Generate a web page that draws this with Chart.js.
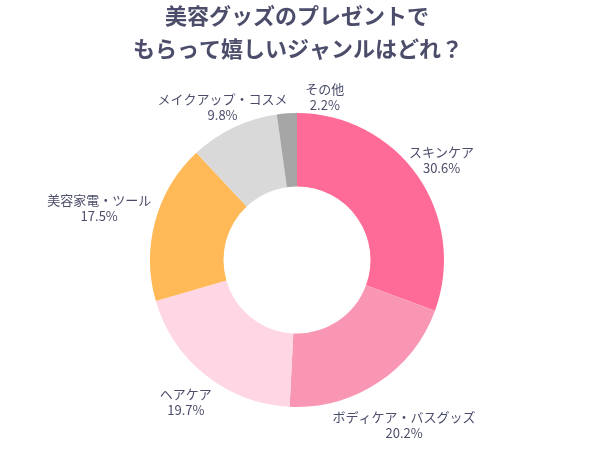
<!DOCTYPE html>
<html>
<head>
<meta charset="utf-8">
<script src="https://cdn.jsdelivr.net/npm/chart.js@4"></script>
<style>
  html, body { margin: 0; padding: 0; background: #fff; }
  #wrap { width: 602px; height: 451px; position: relative; }
</style>
</head>
<body>
<div id="wrap"><canvas id="chart" width="602" height="451"></canvas></div>
<script>
const titleLines = ["美容グッズのプレゼントで", "もらって嬉しいジャンルはどれ？"];
const categories = ["スキンケア", "ボディケア・バスグッズ", "ヘアケア", "美容家電・ツール", "メイクアップ・コスメ", "その他"];
const shares = [30.6, 20.2, 19.7, 17.5, 9.8, 2.2];
const sliceColors = ["#FF6B97", "#F896B4", "#FFD6E4", "#FFBA57", "#D9D9D9", "#A6A6A6"];

const textColor = "#4B4D6A";
const jpFont = "'Noto Sans CJK JP', 'Noto Sans', sans-serif";

// nudge of each label from the outer edge of its slice (px)
const labelNudge = [[24, -16], [26, 42], [-20, 27], [-56, -13], [-11, -20], [38, -16]];

const outsideLabels = {
  id: "outsideLabels",
  afterDraw(chart) {
    const ctx = chart.ctx;
    ctx.save();
    ctx.fillStyle = textColor;
    ctx.textAlign = "center";
    ctx.textBaseline = "middle";

    // title
    ctx.font = "bold 22px " + jpFont;
    ctx.fillText(titleLines[0], 297, 16);
    ctx.fillText(titleLines[1], 298, 49);

    // slice labels
    ctx.font = "13px " + jpFont;
    chart.getDatasetMeta(0).data.forEach((arc, i) => {
      const mid = (arc.startAngle + arc.endAngle) / 2;
      const x = arc.x + Math.cos(mid) * arc.outerRadius + labelNudge[i][0];
      const y = arc.y + Math.sin(mid) * arc.outerRadius + labelNudge[i][1];
      ctx.fillText(categories[i], x, y - 8);
      ctx.fillText(shares[i].toFixed(1) + "%", x, y + 8);
    });
    ctx.restore();
  }
};

new Chart(document.getElementById("chart"), {
  type: "doughnut",
  data: {
    labels: categories,
    datasets: [{
      data: shares,
      backgroundColor: sliceColors,
      borderWidth: 0
    }]
  },
  options: {
    responsive: false,
    animation: false,
    cutout: "50%",
    layout: { padding: { top: 113, bottom: 44, left: 0, right: 8 } },
    plugins: {
      legend: { display: false },
      tooltip: { enabled: false }
    }
  },
  plugins: [outsideLabels]
});
</script>
</body>
</html>
